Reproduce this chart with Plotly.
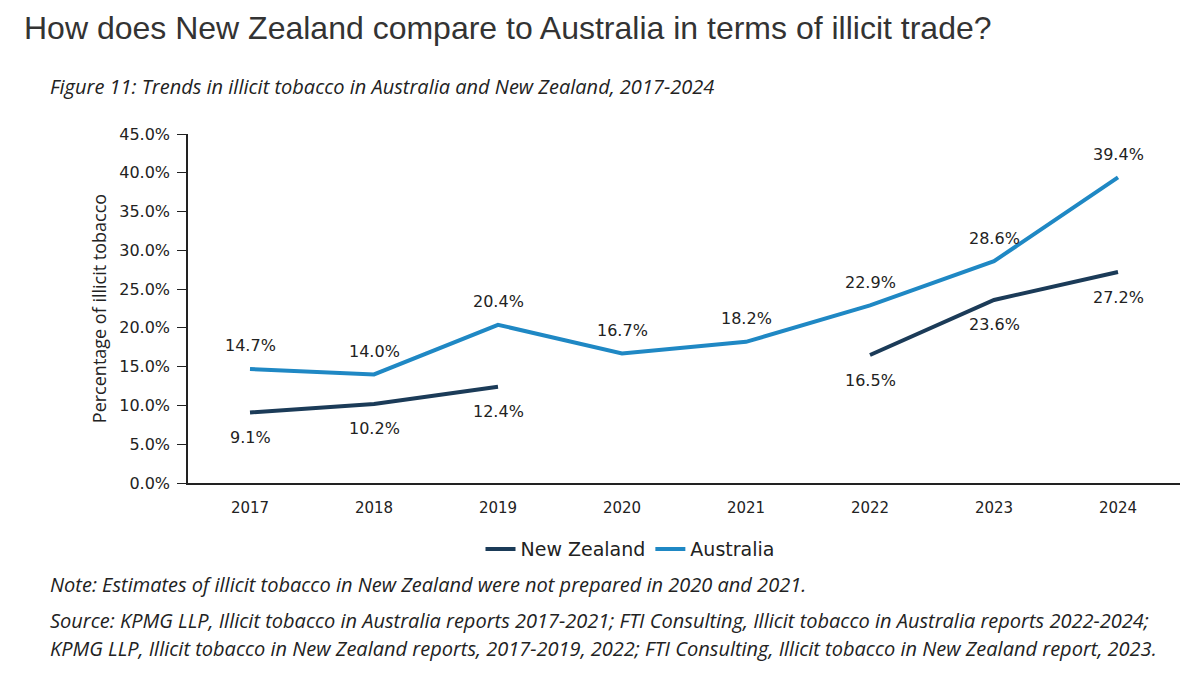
import plotly.graph_objects as go

years = ["2017", "2018", "2019", "2020", "2021", "2022", "2023", "2024"]
new_zealand = [9.1, 10.2, 12.4, None, None, 16.5, 23.6, 27.2]
australia = [14.7, 14.0, 20.4, 16.7, 18.2, 22.9, 28.6, 39.4]
y_ticks = [0, 5, 10, 15, 20, 25, 30, 35, 40, 45]

NZ_COLOR = "#1b3b58"
AU_COLOR = "#1f88c4"
TXT = "#222222"

W, H = 1200, 676
ml, mr, mt, mb = 188, 20, 134, 193
pw, ph = W - ml - mr, H - mt - mb

fig = go.Figure()
fig.add_trace(go.Scatter(x=years, y=new_zealand, mode="lines", name="New Zealand",
                         line=dict(color=NZ_COLOR, width=4), connectgaps=False))
fig.add_trace(go.Scatter(x=years, y=australia, mode="lines", name="Australia",
                         line=dict(color=AU_COLOR, width=4)))

label_font = dict(family="DejaVu Sans", size=16, color=TXT)
for i, v in enumerate(australia):
    fig.add_annotation(x=i, y=v, xref="x", yref="y", text=f"{v:.1f}%", showarrow=False,
                       yshift=23, font=label_font)
for i, v in enumerate(new_zealand):
    if v is None:
        continue
    fig.add_annotation(x=i, y=v, xref="x", yref="y", text=f"{v:.1f}%", showarrow=False,
                       yshift=-25, font=label_font)

paper_texts = [
    ("How does New Zealand compare to Australia in terms of illicit trade?", 22, 28, 32, "Liberation Sans", "#333333", False),
    ("Figure 11: Trends in illicit tobacco in Australia and New Zealand, 2017-2024", 48, 86, 20, "Open Sans", "#222222", True),
    ("Note: Estimates of illicit tobacco in New Zealand were not prepared in 2020 and 2021.", 48, 584, 20, "Open Sans", "#222222", True),
    ("Source: KPMG LLP, Illicit tobacco in Australia reports 2017-2021; FTI Consulting, Illicit tobacco in Australia reports 2022-2024;", 48, 620, 20, "Open Sans", "#222222", True),
    ("KPMG LLP, Illicit tobacco in New Zealand reports, 2017-2019, 2022; FTI Consulting, Illicit tobacco in New Zealand report, 2023.", 48, 648, 20, "Open Sans", "#222222", True),
]
for text, px, py, size, fam, col, ital in paper_texts:
    fig.add_annotation(
        x=(px - ml) / pw, y=(H - mb - py) / ph, xref="paper", yref="paper",
        xanchor="left", yanchor="middle", showarrow=False,
        text=f"<i>{text}</i>" if ital else text,
        font=dict(family=fam, size=size, color=col),
    )

fig.update_layout(
    width=W, height=H,
    margin=dict(l=ml, r=mr, t=mt, b=mb),
    paper_bgcolor="white", plot_bgcolor="white",
    showlegend=True,
    legend=dict(orientation="h", x=(630 - ml) / pw, xanchor="center", y=-0.135, yanchor="top",
                font=dict(family="DejaVu Sans", size=19, color=TXT)),
    xaxis=dict(type="category", range=[-0.5, 7.5], showline=True, linecolor="#222", linewidth=1.5,
               ticks="", showgrid=False, tickfont=dict(family="DejaVu Sans", size=15, color=TXT),
               ticklabelstandoff=10),
    yaxis=dict(range=[0, 45], tickvals=y_ticks, ticktext=[f"{t:.1f}%" for t in y_ticks],
               showline=True, linecolor="#222", linewidth=1.5, ticks="outside", ticklen=9,
               tickcolor="#222", showgrid=False, zeroline=False, ticklabelstandoff=4,
               tickfont=dict(family="DejaVu Sans", size=16, color=TXT),
               title=dict(text="Percentage of illicit tobacco", standoff=8,
                          font=dict(family="Open Sans", size=18, color=TXT))),
)

fig.write_html("out.html")
